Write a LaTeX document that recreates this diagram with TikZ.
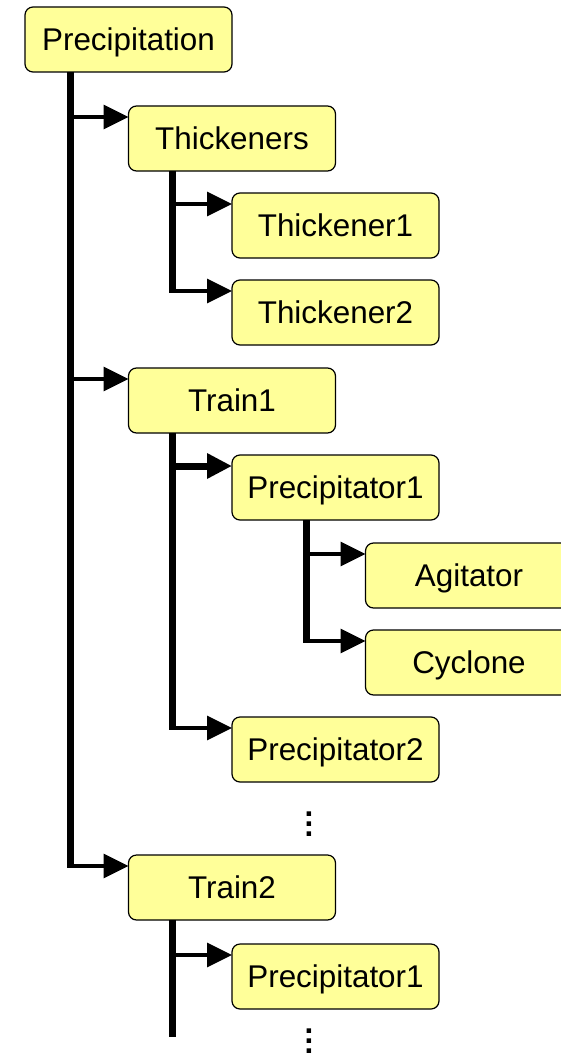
\documentclass[tikz,border=0pt]{standalone}
\usepackage{fontspec}
\setmainfont{Liberation Sans}
\usepackage{xcolor}
\usetikzlibrary{arrows.meta,positioning}

\definecolor{unitfill}{HTML}{FFFF99}

\begin{document}
\begin{tikzpicture}[
    x=0.5pt, y=-0.5pt,
    node distance=11pt,
    unit/.style={draw, rounded corners=4pt, line width=0.6pt, fill=unitfill, minimum width=103.5pt, minimum height=32.5pt, inner sep=0pt, outer sep=0pt, text height=10.6pt, text depth=0pt, font=\fontsize{15.7pt}{18pt}\selectfont},
    trunk/.style={line width=3.5pt, shorten >=-0.9pt},
    branch/.style={-{Triangle[length=12.5pt, width=12pt]}, line width=1.75pt},
    more/.style={align=center, inner sep=0pt, font=\fontsize{15.7pt}{5pt}\selectfont\bfseries}
]
\useasboundingbox (0,0) rectangle (561,1054);
\clip (0,0) rectangle (561,1054);

\node[unit, anchor=north west] (prec) at (25,7) {Precipitation};
\node[unit, below right=17pt and 0pt of prec.south] (thk) {Thickeners};
\node[unit, below right=11pt and 0pt of thk.south] (thk1) {Thickener1};
\node[unit, below=11pt of thk1.south west, anchor=north west] (thk2) {Thickener2};
\node[unit, below=98.5pt of thk.south west, anchor=north west] (tr1) {Train1};
\node[unit, below right=11pt and 0pt of tr1.south] (pr11) {Precipitator1};
\node[unit, below right=11.5pt and 15pt of pr11.south] (agit) {Agitator};
\node[unit, below=11pt of agit.south west, anchor=north west] (cyc) {Cyclone};
\node[unit, below=98.5pt of pr11.south west, anchor=north west] (pr12) {Precipitator2};
\node[more] (more1) at ([xshift=38.5pt, yshift=-21pt]pr12.south west) {.\\.\\.};
\node[unit, below=211pt of tr1.south west, anchor=north west] (tr2) {Train2};
\node[unit, below right=12pt and 0pt of tr2.south] (pr21) {Precipitator1};
\node[more] (more2) at ([xshift=38.5pt, yshift=-16pt]pr21.south west) {.\\.\\.};

% where the arrows enter
\foreach \n in {thk,thk1,thk2,tr1,pr11,agit,cyc,pr12,tr2,pr21}
    \coordinate (\n-in) at ([yshift=-5.5pt]\n.north west);

% trunk heads
\coordinate (t0) at ([xshift=22.5pt]prec.south west);
\coordinate (t1) at ([xshift=22pt]thk.south west);
\coordinate (t2) at ([xshift=22pt]tr1.south west);
\coordinate (t3) at ([xshift=37pt]pr11.south west);
\coordinate (t4) at ([xshift=22pt]tr2.south west);
\coordinate (t4end) at ([yshift=-58.5pt]t4);

\draw[trunk] (t0) -- (t0 |- tr2-in);
\draw[trunk] (t1) -- (t1 |- thk2-in);
\draw[trunk] (t2) -- (t2 |- pr12-in);
\draw[trunk] (t3) -- (t3 |- cyc-in);
\draw[trunk, shorten >=0pt] (t4) -- (t4end);

\foreach \src/\dst in {t0/thk, t0/tr1, t0/tr2, t1/thk1, t1/thk2, t2/pr12, t3/agit, t3/cyc, t4/pr21}
    \draw[branch] (\src |- \dst-in) -- (\dst-in);
\draw[branch, line width=3.5pt] (t2 |- pr11-in) -- (pr11-in);

\end{tikzpicture}
\end{document}
